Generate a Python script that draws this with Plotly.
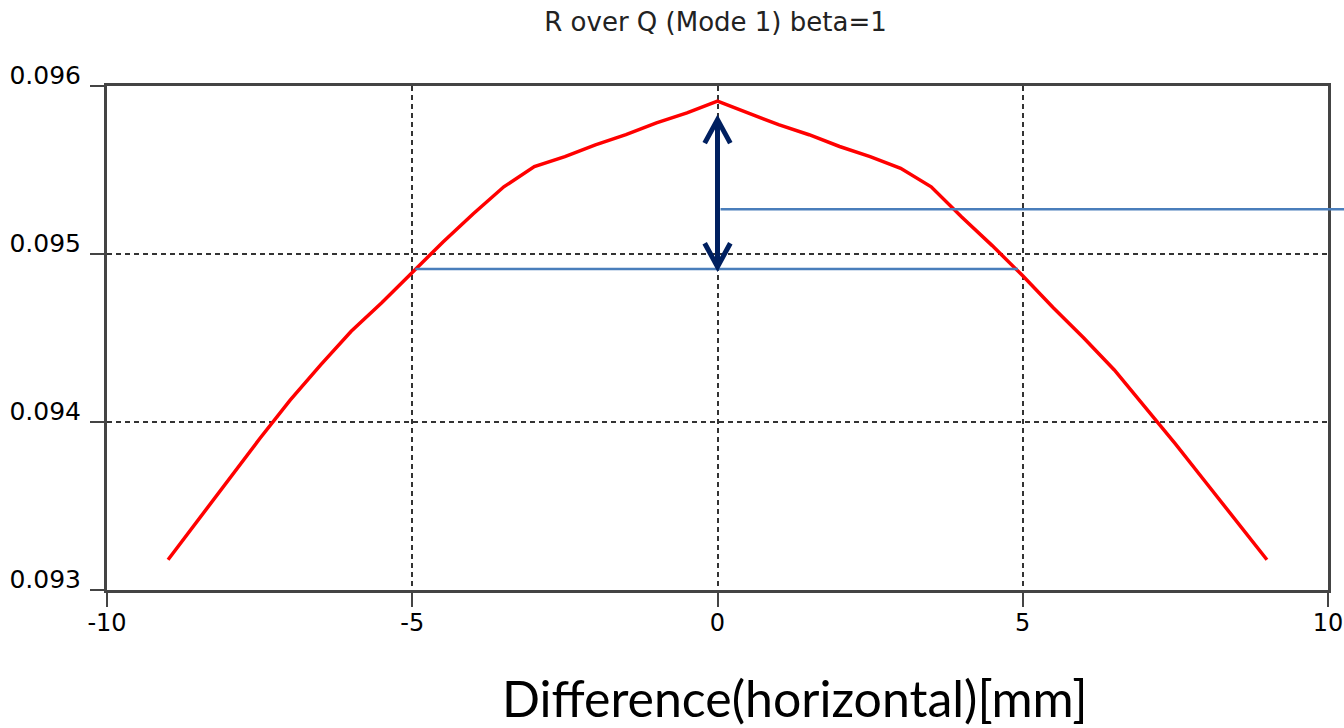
import plotly.graph_objects as go

# ---- data ----
x_mm = [-9, -8.5, -8, -7.5, -7, -6.5, -6, -5.5, -5, -4.5, -4, -3.5, -3, -2.5, -2, -1.5, -1, -0.5, 0,
        0.5, 1, 1.5, 2, 2.5, 3, 3.5, 4, 4.5, 5, 5.5, 6, 6.5, 7, 7.5, 8, 8.5, 9]
r_over_q = [0.09318, 0.09342, 0.09366, 0.09390, 0.09413, 0.09434, 0.09454, 0.09471, 0.09489,
            0.09507, 0.09524, 0.09540, 0.09552, 0.09558, 0.09565, 0.09571, 0.09578, 0.09584, 0.09591,
            0.09584, 0.09577, 0.09571, 0.09564, 0.09558, 0.09551, 0.09540, 0.09522, 0.09505, 0.09487,
            0.09468, 0.09450, 0.09431, 0.09409, 0.09387, 0.09364, 0.09341, 0.09318]

x_ticks = [-10, -5, 0, 5, 10]
y_ticks = [0.093, 0.094, 0.095, 0.096]

# annotation levels
lower_level = 0.094911
lower_x = [-4.95, 4.92]
upper_level = 0.095266
arrow_x = 0.0
arrow_top = 0.09580
arrow_bottom = 0.094924
head_dx = 0.21
head_dy = 0.00014

FONT = "DejaVu Sans, Verdana, sans-serif"

fig = go.Figure()
fig.add_trace(go.Scatter(x=x_mm, y=r_over_q, mode="lines",
                         line=dict(color="#FF0000", width=3.5), showlegend=False))

shapes = []
shapes.append(dict(type="line", xref="x", yref="y", x0=lower_x[0], x1=lower_x[1],
                   y0=lower_level, y1=lower_level, line=dict(color="#4A7EBB", width=2.5)))
shapes.append(dict(type="line", xref="paper", yref="y", x0=0.5025, x1=1.05,
                   y0=upper_level, y1=upper_level, line=dict(color="#4A7EBB", width=2.5)))
shapes.append(dict(type="line", xref="x", yref="y", x0=arrow_x, x1=arrow_x,
                   y0=arrow_bottom, y1=arrow_top, line=dict(color="#002060", width=5)))
top_path = (f"M {arrow_x - head_dx},{arrow_top - head_dy} L {arrow_x},{arrow_top} "
            f"L {arrow_x + head_dx},{arrow_top - head_dy}")
bot_path = (f"M {arrow_x - head_dx},{arrow_bottom + head_dy} L {arrow_x},{arrow_bottom} "
            f"L {arrow_x + head_dx},{arrow_bottom + head_dy}")
for p in (top_path, bot_path):
    shapes.append(dict(type="path", xref="x", yref="y", path=p,
                       line=dict(color="#002060", width=5)))

fig.update_layout(
    width=1344, height=728,
    margin=dict(l=107, r=16, t=86, b=138, autoexpand=False),
    paper_bgcolor="white", plot_bgcolor="white",
    shapes=shapes,
    title=dict(text="R over Q (Mode 1) beta=1", x=(538 + 893) / 2 / 1344, xanchor="center",
               y=1 - 22 / 728, yanchor="middle", yref="container",
               font=dict(family=FONT, size=26, color="#222222")),
    annotations=[dict(text="Difference(horizontal)[mm]", xref="paper", yref="paper",
                      x=(794 - 107) / 1221, y=-(698 - 590) / 504, xanchor="center", yanchor="middle",
                      showarrow=False, font=dict(family="Lato, sans-serif", size=50, color="black"))],
)

fig.update_xaxes(range=[-10, 10], tickvals=x_ticks, ticktext=[str(t) for t in x_ticks],
                 showline=True, mirror=True, linecolor="#444444", linewidth=3,
                 ticks="outside", ticklen=14, tickwidth=2, tickcolor="#444444",
                 showgrid=True, gridcolor="#333333", gridwidth=2, griddash="5px,4px",
                 zeroline=False, automargin=False, ticklabelstandoff=-5,
                 tickfont=dict(family=FONT, size=24, color="black"))
fig.update_yaxes(range=[0.093, 0.096], tickvals=y_ticks, ticktext=[f"{t:.3f}" for t in y_ticks],
                 showline=True, mirror=True, linecolor="#444444", linewidth=3,
                 ticks="outside", ticklen=14, tickwidth=2, tickcolor="#444444",
                 showgrid=True, gridcolor="#333333", gridwidth=2, griddash="5px,4px",
                 zeroline=False, automargin=False, ticklabelshift=-11, ticklabelstandoff=4,
                 tickfont=dict(family=FONT, size=25, color="black"))

fig.write_html("out.html")
